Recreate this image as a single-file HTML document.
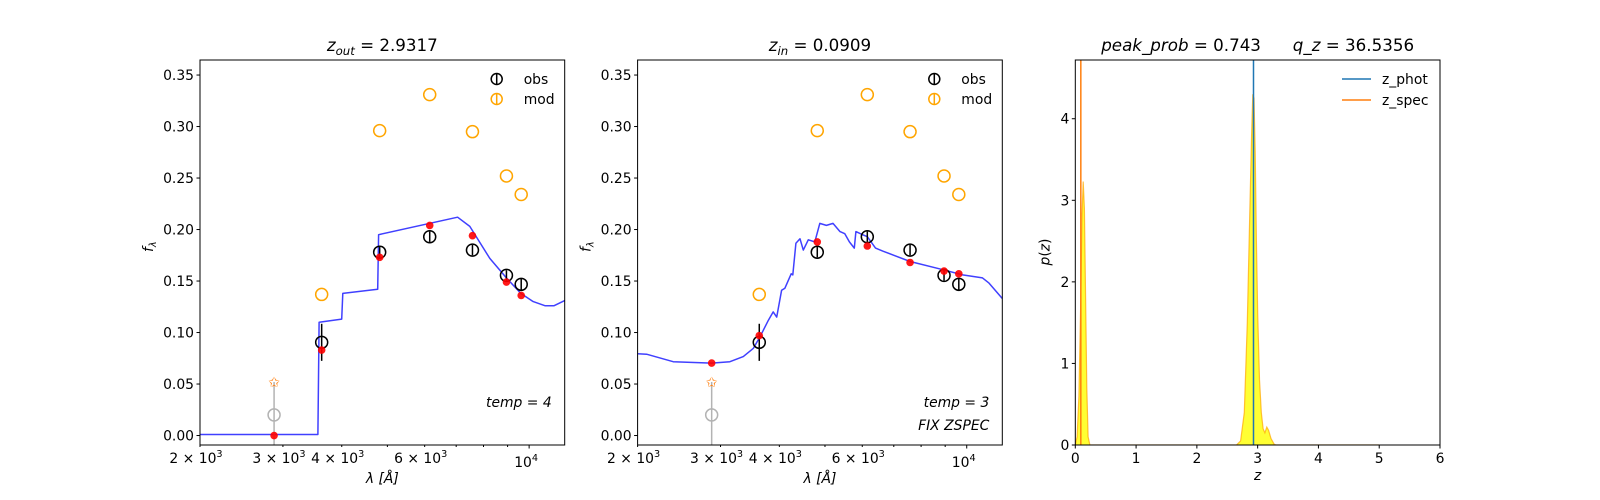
<!DOCTYPE html>
<html><head><meta charset="utf-8"><style>
body{margin:0;background:#fff;}
svg{display:block;font-family:"DejaVu Sans","Liberation Sans",sans-serif;}
</style></head><body>
<svg id="fig" width="1600" height="500" viewBox="0 0 1600 500" xmlns="http://www.w3.org/2000/svg"></svg>
<script>
// ---- data ----
const bandWave = [2873, 3626, 4815, 6150, 7580, 8950, 9620];
const obsFlux = [0.020, 0.0905, 0.178, 0.193, 0.180, 0.1555, 0.1468];
const obsErr = [0.032, 0.018, 0.005, 0.005, 0.005, 0.005, 0.006];
const modFlux = [0.052, 0.137, 0.296, 0.331, 0.295, 0.252, 0.234];
const redFlux1 = [0.000, 0.083, 0.173, 0.204, 0.194, 0.149, 0.136];
const redFlux2 = [0.0704, 0.097, 0.188, 0.184, 0.168, 0.1597, 0.157];
const spec1Wave = [2000,3560,3580,4000,4020,4770,4790,7050,7480,8250,8950,9600,10200,10800,11300,11900];
const spec1Flux = [0.001,0.001,0.110,0.113,0.138,0.142,0.195,0.212,0.203,0.172,0.153,0.138,0.130,0.126,0.126,0.131];
const spec2Wave = [2000,2090,2380,2873,3141,3354,3524,3639,3792,3882,3948,4045,4110,4239,4272,4338,4426,4496,4608,4758,4875,5034,5200,5380,5510,5635,5770,5815,6010,6150,6400,6640,7580,8900,9800,10800,11150,11900];
const spec2Flux = [0.0794,0.079,0.0717,0.0703,0.0717,0.0766,0.0847,0.0959,0.112,0.120,0.115,0.141,0.143,0.157,0.156,0.1866,0.191,0.180,0.190,0.188,0.206,0.204,0.206,0.198,0.196,0.188,0.182,0.198,0.195,0.193,0.182,0.179,0.169,0.161,0.156,0.153,0.148,0.133];
const pzZ = [0,0.03,0.06,0.09,0.11,0.13,0.15,0.17,0.19,0.21,0.24,2.65,2.72,2.78,2.83,2.87,2.9,2.92,2.94,2.96,2.98,3.0,3.03,3.06,3.09,3.12,3.15,3.18,3.22,3.27,3.3,5.0];
const pzP = [0,0.1,0.6,1.8,2.8,3.23,2.9,1.8,0.7,0.1,0,0,0.05,0.4,1.5,2.8,3.8,4.3,4.25,3.6,2.5,1.6,0.8,0.4,0.2,0.15,0.22,0.18,0.08,0.01,0,0];
const zPhot = 2.9317;
const zSpec = 0.0909;
const fluxTicks = [0.00,0.05,0.10,0.15,0.20,0.25,0.30,0.35];
const zTicks = [0,1,2,3,4,5,6];
const pTicks = [0,1,2,3,4];

const NS="http://www.w3.org/2000/svg";
const svg=document.getElementById('fig');
function mk(tag,attrs,parent){const e=document.createElementNS(NS,tag);for(const k in attrs)e.setAttribute(k,attrs[k]);(parent||svg).appendChild(e);return e;}
function txt(s,attrs,parent){const e=mk('text',attrs,parent);e.textContent=s;return e;}

const T=60,B=445;
const panels=[{L:200,R:564.7},{L:637.6,R:1002.3},{L:1075.3,R:1440}];
const XMIN=2000,XMAX=11900,YMIN=-0.0092,YMAX=0.3646;

function sedPanel(p,idx,redFlux,specW,specF,title,notes){
  const g=mk('g',{});
  
  
  const sx=w=>p.L+(Math.log10(w)-Math.log10(XMIN))/(Math.log10(XMAX)-Math.log10(XMIN))*(p.R-p.L);
  const sy=f=>B-(f-YMIN)/(YMAX-YMIN)*(B-T);
  let d=specW.map((w,i)=>(i?'L':'M')+sx(w).toFixed(1)+','+sy(specF[i]).toFixed(1)).join('');
  const sl=mk('path',{d:d,fill:'none',stroke:'#0000ff','stroke-opacity':0.75,'stroke-width':1.5,'stroke-linejoin':'round'},g);
  
  
  bandWave.forEach((w,i)=>{
    const x=sx(w);
    const col=i===0?'#b3b3b3':'#000';
    const eb=mk('line',{x1:x,x2:x,y1:Math.min(B,sy(obsFlux[i]-obsErr[i])),y2:sy(obsFlux[i]+obsErr[i]),stroke:col,'stroke-width':1.5},g);
    
    
    const c=mk('circle',{cx:x,cy:sy(obsFlux[i]),r:6,fill:'none',stroke:col,'stroke-width':1.5},g);
    
    
    if(i===0){
      const st=txt('✩',{x:x,y:sy(modFlux[i])+5,'text-anchor':'middle','font-size':14,fill:'#ff7f0e'},g);
      
      
    } else {
      const m=mk('circle',{cx:x,cy:sy(modFlux[i]),r:6,fill:'none',stroke:'#ffa500','stroke-width':1.5},g);
      
      
    }
    const r=mk('circle',{cx:x,cy:sy(redFlux[i]),r:3.8,fill:'#ff0000','fill-opacity':0.9},g);
    
    
  });
  const fr=mk('rect',{x:p.L,y:T,width:p.R-p.L,height:B-T,fill:'none',stroke:'#000','stroke-width':1},g);
  
  
  fluxTicks.forEach(v=>{
    const y=sy(v);
    mk('line',{x1:p.L-3.5,x2:p.L,y1:y,y2:y,stroke:'#000'},g);
    const t=txt(v.toFixed(2),{x:p.L-6,y:y+5,'text-anchor':'end','font-size':13.9},g);
    
    
  });
  [2000,3000,4000,5000,6000,7000,8000,9000,10000].forEach(w=>{
    const x=sx(w);const lab=[2000,3000,4000,6000,10000].includes(w);
    mk('line',{x1:x,x2:x,y1:B,y2:B+(w===10000?3.5:2),stroke:'#000'},g);
    if(lab){
      let t;
      if(w===10000){t=txt('10',{x:x-3,y:B+22,'text-anchor':'middle','font-size':13.9},g);
        const s=mk('tspan',{'font-size':9.7,dy:-6},t);s.textContent='4';}
      else{t=txt((w/1000)+' \u00d7 10',{x:x-4,y:B+18,'text-anchor':'middle','font-size':13.9},g);
        t.setAttribute('xml:space','preserve');
        const s=mk('tspan',{'font-size':9.7,dy:-6},t);s.textContent='3';}
      
      
    }
  });
  const xl=txt('λ [Å]',{x:(p.L+p.R)/2,y:483,'text-anchor':'middle','font-size':13.9,'font-style':'italic'},g);
  
  
  const yl=txt('f',{x:0,y:0,'font-size':13.9,'font-style':'italic',transform:`translate(${p.L-47},252) rotate(-90)`},g);
  const ys=mk('tspan',{'font-size':9.7,dy:3},yl);ys.textContent='λ';
  
  
  const ti=txt('',{x:(p.L+p.R)/2,y:51,'text-anchor':'middle','font-size':16.7},g);
  ti.innerHTML=title;
  
  
  notes.forEach((n,i)=>{
    const t=txt(n,{x:p.R-13,y:407+i*23,'text-anchor':'end','font-size':13.9,'font-style':'italic'},g);
    
    
  });
  const lg=mk('g',{},g);
  
  
  [['obs','#000',79],['mod','#ffa500',99]].forEach(([lab,col,y])=>{
    const lx=p.R-68;
    mk('circle',{cx:lx,cy:y,r:5.5,fill:'none',stroke:col,'stroke-width':1.5},lg);
    mk('line',{x1:lx,x2:lx,y1:y-6,y2:y+6,stroke:col,'stroke-width':1.5},lg);
    const t=txt(lab,{x:lx+27,y:y+5,'font-size':13.9},lg);
    
    
  });
}
sedPanel(panels[0],1,redFlux1,spec1Wave,spec1Flux,'<tspan font-style="italic">z</tspan><tspan font-size="11.7" font-style="italic" dy="4">out</tspan><tspan dy="-4"> = 2.9317</tspan>',['temp = 4']);
sedPanel(panels[1],2,redFlux2,spec2Wave,spec2Flux,'<tspan font-style="italic">z</tspan><tspan font-size="11.7" font-style="italic" dy="4">in</tspan><tspan dy="-4"> = 0.0909</tspan>',['temp = 3','FIX ZSPEC']);

(function(){
  const p=panels[2];
  const g=mk('g',{});
  
  
  const sx=z=>p.L+z/6*(p.R-p.L);
  const sy=v=>B-v/4.72*(B-T);
  const cp=mk('clipPath',{id:'c3'},g);mk('rect',{x:p.L,y:T,width:p.R-p.L,height:B-T},cp);
  const inner=mk('g',{'clip-path':'url(#c3)'},g);
  let d='M'+sx(pzZ[0])+','+sy(0)+pzZ.map((z,i)=>'L'+sx(z).toFixed(1)+','+sy(pzP[i]).toFixed(1)).join('')+'L'+sx(pzZ[pzZ.length-1])+','+sy(0)+'Z';
  const f=mk('path',{d:d,fill:'#ffff00','fill-opacity':0.8,stroke:'none'},inner);
  
  
  const l=mk('path',{d:pzZ.map((z,i)=>(i?'L':'M')+sx(z).toFixed(1)+','+sy(pzP[i]).toFixed(1)).join(''),fill:'none',stroke:'#ffa500','stroke-opacity':0.7,'stroke-width':1.2},inner);
  
  
  const lp=mk('line',{x1:sx(zPhot),x2:sx(zPhot),y1:T,y2:B,stroke:'#1f77b4','stroke-width':1.5},inner);
  
  
  const ls=mk('line',{x1:sx(zSpec),x2:sx(zSpec),y1:T,y2:B,stroke:'#ff7f0e','stroke-width':1.5},inner);
  
  
  const fr=mk('rect',{x:p.L,y:T,width:p.R-p.L,height:B-T,fill:'none',stroke:'#000'},g);
  
  
  zTicks.forEach(v=>{const x=sx(v);mk('line',{x1:x,x2:x,y1:B,y2:B+3.5,stroke:'#000'},g);
    const t=txt(String(v),{x:x,y:B+18,'text-anchor':'middle','font-size':13.9},g);
    
    });
  pTicks.forEach(v=>{const y=sy(v);mk('line',{x1:p.L-3.5,x2:p.L,y1:y,y2:y,stroke:'#000'},g);
    const t=txt(String(v),{x:p.L-6,y:y+5,'text-anchor':'end','font-size':13.9},g);
    
    });
  const xl=txt('z',{x:(p.L+p.R)/2,y:480,'text-anchor':'middle','font-size':13.9,'font-style':'italic'},g);
  
  
  const yl=txt('',{x:0,y:0,'text-anchor':'middle','font-size':13.9,transform:`translate(${p.L-26},252) rotate(-90)`},g);
  yl.innerHTML='<tspan font-style="italic">p</tspan>(<tspan font-style="italic">z</tspan>)';
  
  
  const ti=txt('',{x:(p.L+p.R)/2,y:51,'text-anchor':'middle','font-size':16.7},g);
  ti.innerHTML='<tspan font-style="italic">peak_prob</tspan> = 0.743      <tspan font-style="italic">q_z</tspan> = 36.5356';
  ti.setAttribute('xml:space','preserve');
  ti.style.whiteSpace='pre';
  
  
  const lg=mk('g',{},g);
  
  
  [['z_phot','#1f77b4',79],['z_spec','#ff7f0e',100]].forEach(([lab,col,y])=>{
    mk('line',{x1:1342,x2:1371,y1:y,y2:y,stroke:col,'stroke-width':1.5},lg);
    const t=txt(lab,{x:1382,y:y+5,'font-size':13.9},lg);
    
    
  });
})();
</script>
</body></html>
